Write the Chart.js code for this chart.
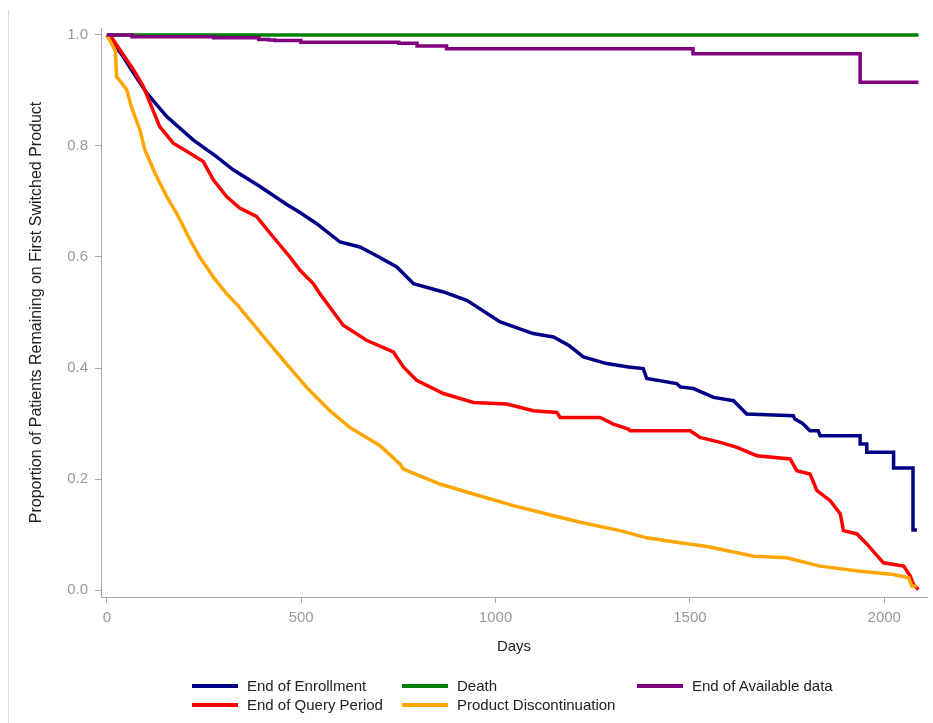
<!DOCTYPE html>
<html>
<head>
<meta charset="utf-8">
<script src="https://cdn.jsdelivr.net/npm/chart.js@4.4.1/dist/chart.umd.min.js"></script>
<style>
  body { margin: 0; background: #fff; font-family: "Liberation Sans", Arial, sans-serif; }
  #wrap { position: relative; width: 933px; height: 723px; }
  #frame { position: absolute; left: 8px; top: 10px; bottom: 0; width: 1px; background: #d8d8d8; }
  .leg { position: absolute; display: flex; align-items: center; height: 19px; font-size: 15px; color: #222; white-space: nowrap; }
  .leg i { display: block; width: 46px; height: 4px; margin-right: 9px; }
</style>
</head>
<body>
<div id="wrap">
  <canvas id="km" width="933" height="723"></canvas>
  <div id="frame"></div>
  <div id="legend"></div>
</div>
<script>
// Kaplan-Meier curves (days, proportion remaining)
const enrollDays = [0, 10, 38, 70, 102, 154, 222, 282, 325, 394, 462, 497, 540, 600, 651, 700, 746, 789, 866, 926, 1012, 1097, 1149, 1190, 1226, 1286, 1342, 1380, 1389, 1466, 1475, 1509, 1561, 1612, 1638, 1646, 1766, 1770, 1790, 1809, 1830, 1835, 1938, 1938, 1955, 1955, 2024, 2024, 2074, 2074, 2084];
const enrollSurv = [1.0, 0.99, 0.965, 0.93, 0.896, 0.853, 0.811, 0.781, 0.757, 0.727, 0.695, 0.680, 0.660, 0.627, 0.618, 0.600, 0.582, 0.552, 0.537, 0.522, 0.483, 0.462, 0.456, 0.440, 0.420, 0.408, 0.402, 0.399, 0.381, 0.372, 0.366, 0.363, 0.347, 0.341, 0.323, 0.317, 0.314, 0.308, 0.300, 0.287, 0.287, 0.278, 0.278, 0.263, 0.263, 0.248, 0.248, 0.220, 0.220, 0.108, 0.108];

const queryDays = [0, 8, 33, 68, 94, 115, 136, 171, 214, 248, 274, 308, 342, 385, 428, 471, 497, 531, 548, 608, 668, 737, 763, 797, 866, 943, 1029, 1097, 1158, 1166, 1269, 1303, 1342, 1346, 1501, 1526, 1578, 1621, 1672, 1758, 1775, 1809, 1827, 1861, 1887, 1895, 1930, 1955, 1998, 2050, 2067, 2075, 2088];
const querySurv = [1.0, 1.0, 0.974, 0.938, 0.907, 0.871, 0.835, 0.805, 0.787, 0.772, 0.739, 0.709, 0.688, 0.673, 0.636, 0.600, 0.576, 0.552, 0.534, 0.477, 0.450, 0.429, 0.402, 0.378, 0.354, 0.338, 0.335, 0.323, 0.320, 0.311, 0.311, 0.299, 0.290, 0.287, 0.287, 0.275, 0.266, 0.257, 0.242, 0.236, 0.215, 0.209, 0.179, 0.161, 0.137, 0.107, 0.101, 0.083, 0.049, 0.043, 0.025, 0.010, 0.001];

const deathDays = [0, 2088];
const deathSurv = [1.0, 1.0];

const discDays = [0, 22, 25, 51, 63, 85, 98, 124, 154, 184, 214, 239, 274, 308, 338, 411, 454, 514, 574, 625, 668, 703, 754, 763, 857, 943, 1046, 1132, 1218, 1320, 1389, 1475, 1548, 1664, 1749, 1835, 1938, 2024, 2063, 2071, 2084];
const discSurv = [1.0, 0.972, 0.925, 0.902, 0.871, 0.829, 0.793, 0.751, 0.709, 0.673, 0.631, 0.600, 0.564, 0.534, 0.512, 0.450, 0.414, 0.365, 0.323, 0.293, 0.275, 0.260, 0.227, 0.218, 0.191, 0.173, 0.152, 0.137, 0.122, 0.107, 0.094, 0.085, 0.078, 0.061, 0.058, 0.043, 0.034, 0.028, 0.022, 0.007, 0.007];

const availDays = [0, 65, 275, 391, 417, 432, 499, 751, 798, 874, 1508, 1938, 2088];
const availSurv = [1.0, 0.997, 0.995, 0.992, 0.991, 0.990, 0.987, 0.985, 0.980, 0.975, 0.966, 0.915, 0.915];

const xTicks = [0, 500, 1000, 1500, 2000];
const yTicks = [0.0, 0.2, 0.4, 0.6, 0.8, 1.0];

const pts = (d, s) => d.map((x, i) => ({ x: x, y: s[i] }));

const series = [
  { label: 'End of Enrollment', color: '#000087', data: pts(enrollDays, enrollSurv), order: 3 },
  { label: 'End of Query Period', color: '#ff0000', data: pts(queryDays, querySurv), order: 2 },
  { label: 'Death', color: '#008000', data: pts(deathDays, deathSurv), order: 4 },
  { label: 'Product Discontinuation', color: '#ffa500', data: pts(discDays, discSurv), order: 1 },
  { label: 'End of Available data', color: '#800080', data: pts(availDays, availSurv), order: 0, stepped: true }
];

const axisGray = '#a9a9a9';

new Chart(document.getElementById('km'), {
  type: 'line',
  data: {
    datasets: series.map(s => ({
      label: s.label,
      data: s.data,
      borderColor: s.color,
      backgroundColor: s.color,
      borderWidth: 3.5,
      pointRadius: 0,
      tension: 0,
      stepped: s.stepped || false,
      order: s.order
    }))
  },
  options: {
    responsive: false,
    animation: false,
    layout: { padding: { left: 0, top: 28, right: 6, bottom: 67 } },
    plugins: { legend: { display: false }, tooltip: { enabled: false } },
    scales: {
      x: {
        type: 'linear',
        min: -15,
        max: 2110,
        afterFit: a => { a.height = 59; },
        afterBuildTicks: a => { a.ticks = xTicks.map(v => ({ value: v })); },
        grid: { display: true, drawOnChartArea: false, drawTicks: true, tickLength: 6, color: axisGray },
        border: { display: true, color: axisGray, width: 1 },
        ticks: { color: '#999', padding: 6, font: { family: 'Liberation Sans', size: 15 }, callback: v => String(v) },
        title: { display: true, text: 'Days', color: '#222', padding: 0, font: { family: 'Liberation Sans', size: 15 } }
      },
      y: {
        min: -0.0126,
        max: 1.0126,
        afterFit: a => { a.width = 101; },
        afterBuildTicks: a => { a.ticks = yTicks.map(v => ({ value: v })); },
        grid: { display: true, drawOnChartArea: false, drawTicks: true, tickLength: 6, color: axisGray },
        border: { display: true, color: axisGray, width: 1 },
        ticks: { color: '#999', padding: 7, font: { family: 'Liberation Sans', size: 15 }, callback: v => v.toFixed(1) },
        title: { display: true, text: 'Proportion of Patients Remaining on First Switched Product', color: '#222', padding: { top: 27, bottom: 0 }, font: { family: 'Liberation Sans', size: 16 } }
      }
    }
  }
});

// legend laid out in columns like the original
const legendSpots = [
  { left: 192, top: 676 }, { left: 192, top: 695 }, { left: 402, top: 676 },
  { left: 402, top: 695 }, { left: 637, top: 676 }
];
const legend = document.getElementById('legend');
series.forEach((s, i) => {
  const el = document.createElement('div');
  el.className = 'leg';
  el.style.left = legendSpots[i].left + 'px';
  el.style.top = legendSpots[i].top + 'px';
  el.innerHTML = '<i style="background:' + s.color + '"></i>' + s.label;
  legend.appendChild(el);
});
</script>
</body>
</html>
